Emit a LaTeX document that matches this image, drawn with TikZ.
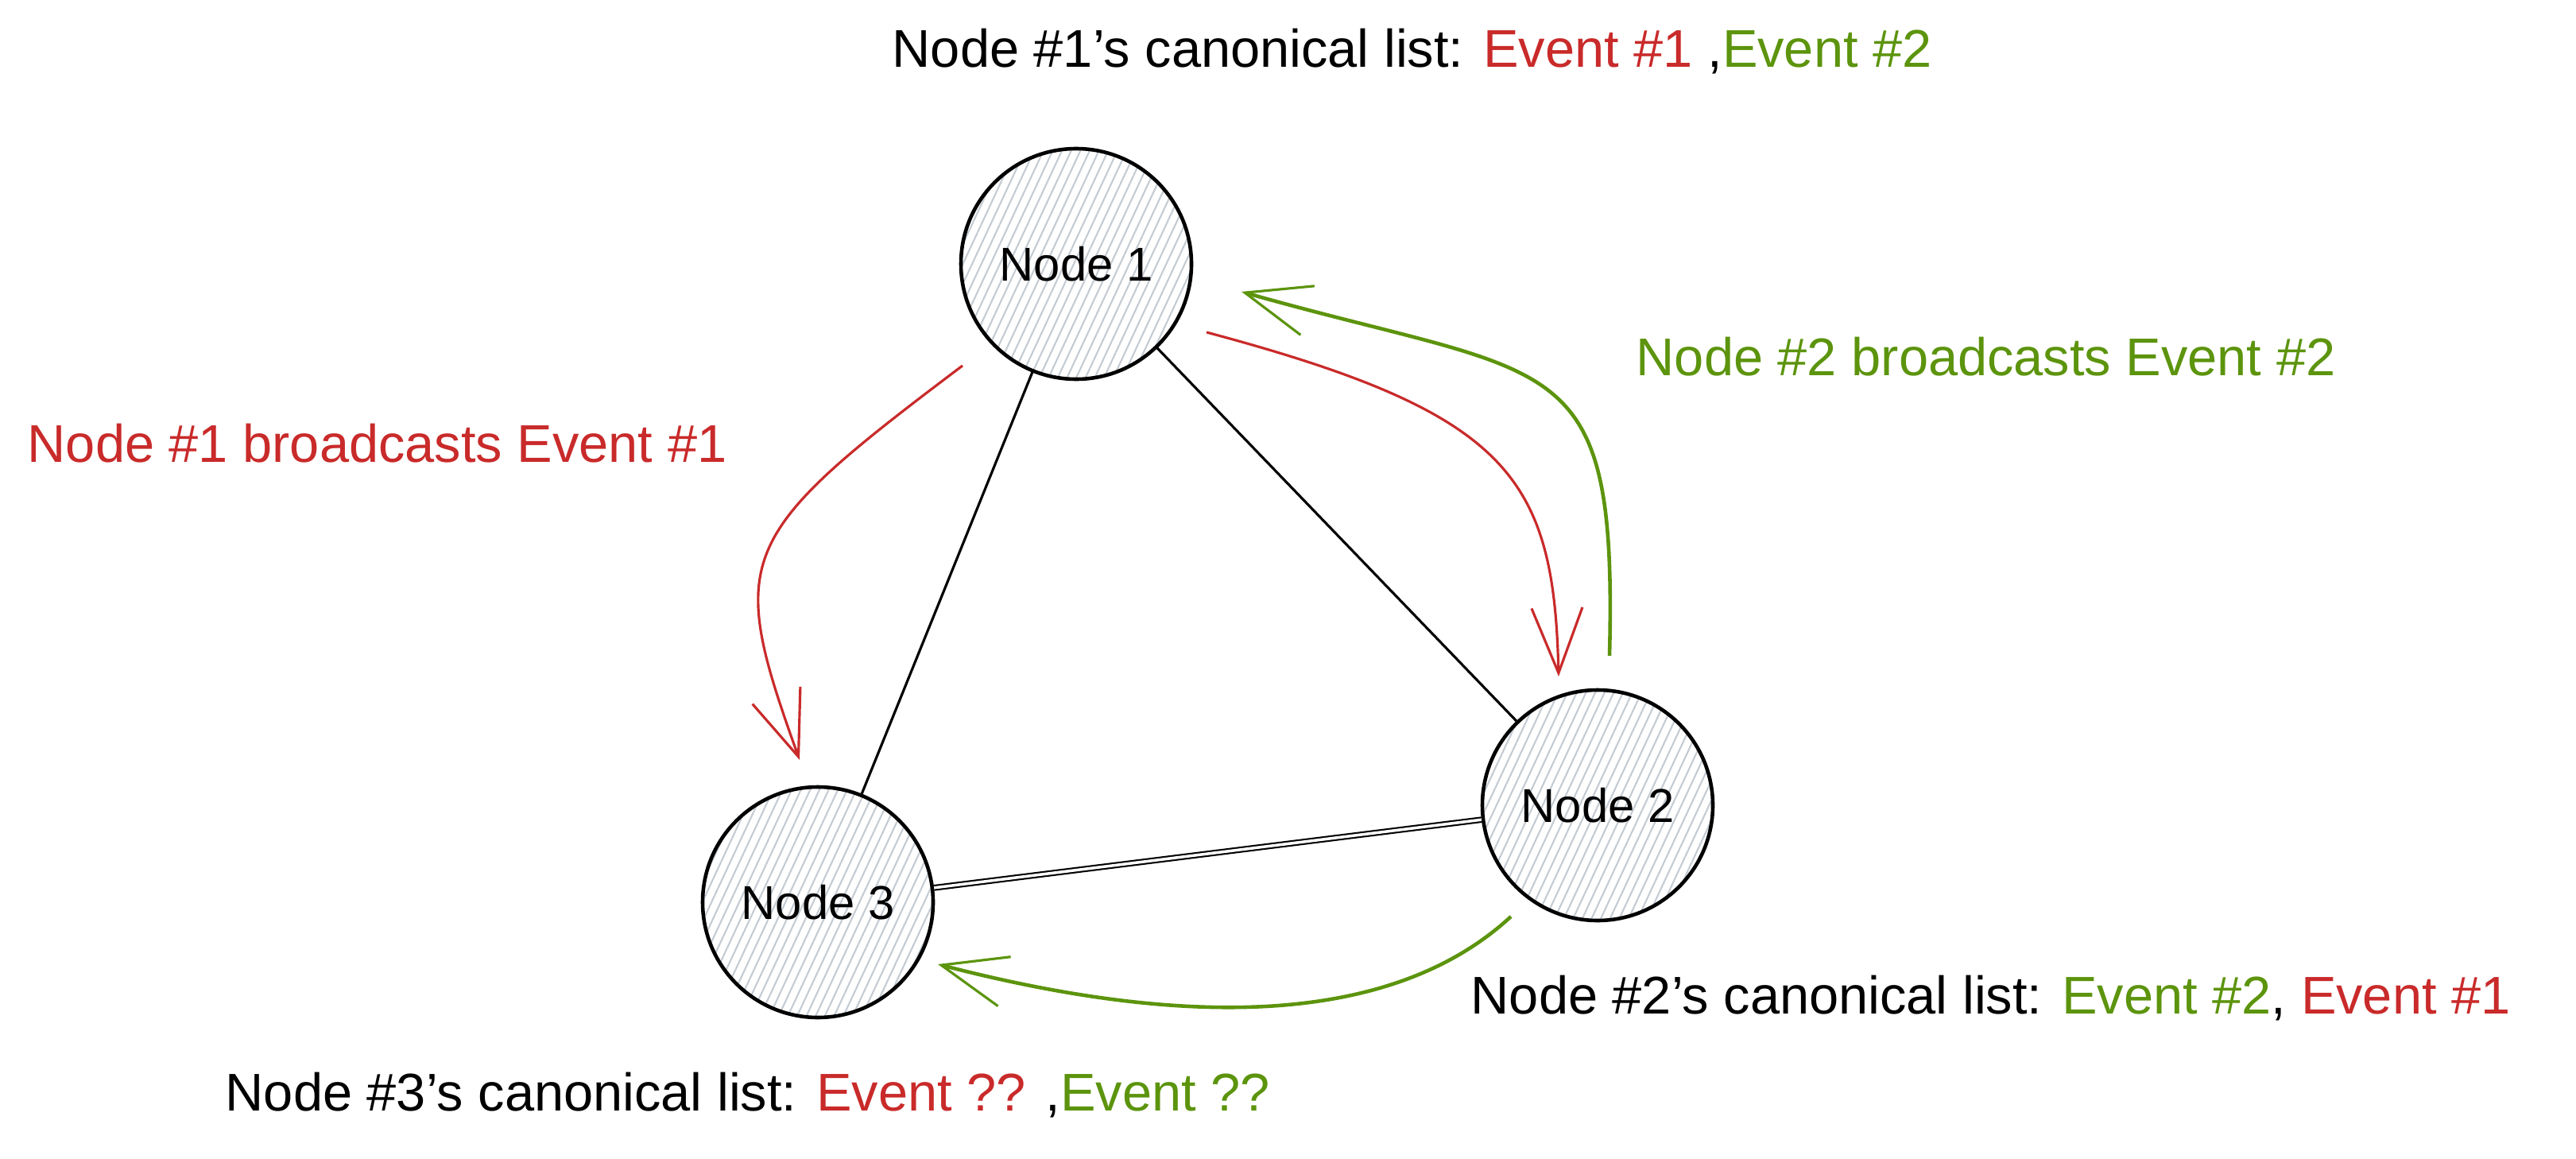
\documentclass[tikz,border=0pt]{standalone}
\usepackage{fontspec}
\setmainfont{Liberation Sans}
\usetikzlibrary{arrows.meta,patterns.meta}
\definecolor{evred}{HTML}{C92A2A}
\definecolor{evgreen}{HTML}{5C940D}
\definecolor{hatch}{HTML}{C4CBD2}
\tikzset{
	peer/.style={circle, draw, line width=1.3pt, minimum size=2.9cm, inner sep=0pt,
		font=\fontsize{17}{20}\selectfont,
		pattern={Lines[angle=65,distance=3pt,line width=0.6pt]}, pattern color=hatch},
	caption/.style={anchor=west, inner sep=0pt, font=\fontsize{19}{22}\selectfont},
	link/.style={line width=0.9pt},
	bcast/.style={line width=0.9pt, -{Straight Barb[length=0.82cm,width=0.64cm,line width=0.9pt]}}
}
\begin{document}
\begin{tikzpicture}
\useasboundingbox (0,0) rectangle (32.41,-14.58);

\node[peer] (n1) at (13.54,-3.32) {Node 1};
\node[peer] (n2) at (20.10,-10.13) {Node 2};
\node[peer] (n3) at (10.29,-11.35) {Node 3};

\draw[link] (n1) -- (n3);
\draw[link] (n1) -- (n2);
\draw[link, double, double distance=1pt, line width=0.6pt] (n2) -- (n3);

\coordinate (r1s) at (12.11,-4.60);
\coordinate (r1e) at (10.06,-9.56);
\coordinate (r2s) at (15.18,-4.18);
\coordinate (r2e) at (19.61,-8.51);
\coordinate (g1s) at (20.25,-8.25);
\coordinate (g1e) at (15.62,-3.67);
\coordinate (g2s) at (19.01,-11.53);
\coordinate (g2e) at (11.80,-12.13);

\draw[bcast, evred] (r1s) .. controls (9.24,-6.76) and (9.14,-7.0) .. (r1e);
\draw[bcast, evred] (r2s) .. controls (19.0,-5.2) and (19.55,-6.0) .. (r2e);
\draw[bcast, evgreen, line width=1.3pt] (g1s) .. controls (20.35,-4.3) and (19.6,-4.8) .. (g1e);
\draw[bcast, evgreen, line width=1.3pt] (g2s) .. controls (17.2,-13.2) and (14.0,-12.7) .. (g2e);

\node[caption] (l1) at (11.22,-0.65) {Node \#1's canonical list: \textcolor{evred}{Event \#1} ,\textcolor{evgreen}{Event \#2}};
\node[caption, evgreen] (b2) at (20.58,-4.49) {Node \#2 broadcasts Event \#2};
\node[caption, evred] (b1) at (0.34,-5.58) {Node \#1 broadcasts Event \#1};
\node[caption] (l2) at (18.50,-12.56) {Node \#2's canonical list: \textcolor{evgreen}{Event \#2}, \textcolor{evred}{Event \#1}};
\node[caption] (l3) at (2.83,-13.78) {Node \#3's canonical list: \textcolor{evred}{Event ??} ,\textcolor{evgreen}{Event ??}};
\end{tikzpicture}
\end{document}
